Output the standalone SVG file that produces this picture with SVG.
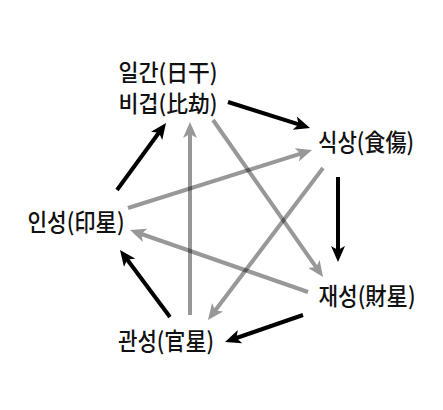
<svg xmlns="http://www.w3.org/2000/svg" width="443" height="410" viewBox="0 0 443 410">
<style>
.lbl{font-family:"Noto Sans CJK KR","Noto Sans",sans-serif;font-size:24px;font-weight:500;fill:#111;text-anchor:middle}
.top{font-size:23px}
.ar{stroke:#000;stroke-width:4;fill:none;marker-end:url(#head)}
.gr{opacity:0.4}
</style>
<defs>
<marker id="head" viewBox="0 0 16 14" markerUnits="userSpaceOnUse" markerWidth="16" markerHeight="14" refX="10" refY="7" orient="auto">
<path d="M0,0 L16,7 L0,14 L4,7 z" fill="#000"/>
</marker>
</defs>
<rect width="443" height="410" fill="#fff"/>
<g id="connectors">
<g class="gr"><path class="ar" d="M128,208 L306.3,151.8"/></g>
<g class="gr"><path class="ar" d="M323,168 L211.6,315.2"/></g>
<g class="gr"><path class="ar" d="M308,292 L135.7,232"/></g>
<g class="gr"><path class="ar" d="M190,315 L190,128"/></g>
<g class="gr"><path class="ar" d="M213,120 L319.6,272.1"/></g>
<path class="ar" d="M228,102 L304.3,126.2"/>
<path class="ar" d="M338,177 L338,256"/>
<path class="ar" d="M303,315 L230.7,340"/>
<path class="ar" d="M170,317 L123.6,254.8"/>
<path class="ar" d="M117,190 L162.5,127.8"/>
</g>
<g id="ilgan"><text class="lbl top"><tspan x="168" y="81" textLength="99" lengthAdjust="spacingAndGlyphs">일간(日干)</tspan><tspan x="168" y="112" textLength="99" lengthAdjust="spacingAndGlyphs">비겁(比劫)</tspan></text></g>
<g id="siksang"><text class="lbl" x="366" y="151" textLength="96" lengthAdjust="spacingAndGlyphs">식상(食傷)</text></g>
<g id="jaeseong"><text class="lbl" x="367" y="305" textLength="97" lengthAdjust="spacingAndGlyphs">재성(財星)</text></g>
<g id="gwanseong"><text class="lbl" x="166" y="350" textLength="96" lengthAdjust="spacingAndGlyphs">관성(官星)</text></g>
<g id="inseong"><text class="lbl" x="76" y="231" textLength="97" lengthAdjust="spacingAndGlyphs">인성(印星)</text></g>
</svg>
